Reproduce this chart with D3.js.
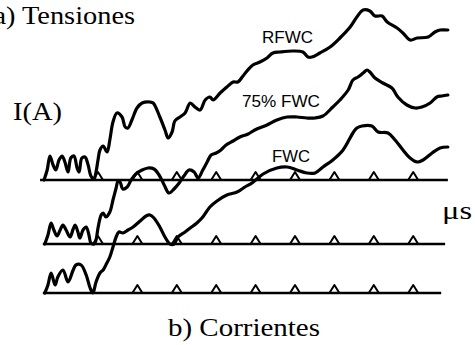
<!DOCTYPE html>
<html>
<head>
<meta charset="utf-8">
<script src="https://cdn.jsdelivr.net/npm/d3@7"></script>
<style>
  html, body { margin: 0; padding: 0; background: #fff; }
  svg { display: block; }
</style>
</head>
<body>
<svg id="chart" width="475" height="345"></svg>
<script>
// Current waveforms, [time (µs, time marks at whole µs), current (A)]
const rfwc = [
  [-0.37, 0], [-0.29, 1.0], [-0.22, 2.4], [-0.14, 1.5], [-0.07, 1.0], [0.01, 2.0],
  [0.09, 2.4], [0.16, 1.8], [0.24, 0.8], [0.31, 2.2], [0.39, 2.4], [0.47, 1.2],
  [0.52, 0.8], [0.59, 2.2], [0.67, 2.3], [0.75, 1.5], [0.82, 0.4], [0.90, 0.1],
  [0.95, 0.8], [1.00, 2.0], [1.05, 3.0], [1.13, 3.4], [1.23, 2.8], [1.30, 4.0],
  [1.38, 5.8], [1.48, 6.7], [1.61, 6.3], [1.69, 5.3], [1.76, 5.2], [1.86, 6.0],
  [1.99, 7.2], [2.12, 7.7], [2.32, 7.8], [2.40, 7.7], [2.57, 6.3], [2.70, 5.0],
  [2.78, 4.2], [2.88, 4.8], [2.95, 5.9], [3.08, 6.3], [3.21, 6.7], [3.34, 7.7],
  [3.46, 7.3], [3.59, 7.0], [3.72, 8.0], [3.84, 8.3], [3.92, 8.0], [4.10, 8.7],
  [4.27, 9.3], [4.43, 9.8], [4.55, 9.8], [4.68, 10.4], [4.78, 10.9], [4.93, 11.5],
  [5.11, 11.8], [5.29, 12.2], [5.44, 12.7], [5.62, 12.8], [5.95, 12.9], [6.20, 12.8],
  [6.33, 12.3], [6.43, 12.3], [6.63, 12.7], [6.89, 13.3], [7.14, 14.2], [7.40, 15.3],
  [7.57, 16.3], [7.73, 17.0], [7.90, 16.9], [8.03, 16.4], [8.21, 16.4], [8.34, 15.8],
  [8.59, 15.2], [8.74, 14.7], [8.92, 14.0], [9.10, 14.2], [9.38, 14.3], [9.55, 14.8],
  [9.68, 15.0], [9.88, 15.0]
];

const fwc75 = [
  [-0.35, 0], [-0.27, 0.9], [-0.19, 2.1], [-0.12, 1.4], [-0.04, 0.8], [0.04, 1.4],
  [0.11, 1.9], [0.19, 1.4], [0.29, 0.7], [0.37, 1.5], [0.42, 1.9], [0.49, 1.2],
  [0.54, 0.6], [0.62, 1.4], [0.70, 1.7], [0.77, 0.9], [0.82, 0.1], [0.90, 0],
  [0.95, 0.4], [1.00, 1.6], [1.08, 2.9], [1.13, 3.1], [1.20, 2.7], [1.30, 3.2],
  [1.38, 4.4], [1.46, 5.6], [1.51, 6.3], [1.56, 6.2], [1.63, 5.5], [1.74, 5.7],
  [1.84, 6.4], [1.96, 7.0], [2.12, 7.4], [2.27, 7.6], [2.42, 7.5], [2.55, 6.9],
  [2.68, 5.9], [2.80, 5.1], [2.93, 5.5], [3.06, 6.1], [3.18, 6.8], [3.31, 7.4],
  [3.44, 7.2], [3.54, 6.6], [3.66, 7.4], [3.77, 8.2], [3.87, 8.9], [4.00, 9.1],
  [4.12, 9.4], [4.25, 9.9], [4.43, 10.3], [4.60, 10.7], [4.81, 11.0], [4.98, 11.4],
  [5.29, 11.9], [5.54, 12.4], [5.80, 12.7], [6.05, 12.7], [6.30, 12.6], [6.51, 12.6],
  [6.71, 12.8], [6.96, 13.7], [7.14, 14.4], [7.35, 15.4], [7.47, 16.4], [7.60, 16.7],
  [7.73, 17.1], [7.83, 17.4], [7.90, 17.2], [8.03, 16.6], [8.23, 16.1], [8.46, 15.6],
  [8.61, 14.7], [8.84, 13.9], [9.05, 13.6], [9.22, 13.7], [9.43, 14.1], [9.60, 14.7],
  [9.73, 14.8], [9.88, 14.9]
];

const fwc = [
  [-0.35, 0], [-0.27, 0.8], [-0.19, 2.0], [-0.09, 0.8], [-0.02, 1.6], [0.11, 2.3],
  [0.24, 1.1], [0.37, 2.3], [0.44, 2.8], [0.57, 2.8], [0.70, 1.8], [0.80, 0.5],
  [0.87, 0], [0.95, 1.1], [1.05, 2.0], [1.13, 2.3], [1.20, 2.8], [1.30, 3.6],
  [1.38, 4.6], [1.46, 5.6], [1.53, 6.1], [1.63, 6.0], [1.76, 6.3], [1.89, 6.6],
  [2.07, 7.2], [2.22, 7.7], [2.32, 7.8], [2.42, 7.5], [2.57, 6.6], [2.70, 5.6],
  [2.83, 4.9], [2.93, 4.9], [3.03, 5.6], [3.21, 6.1], [3.34, 6.5], [3.51, 7.0],
  [3.66, 7.6], [3.84, 8.6], [4.02, 9.2], [4.27, 9.8], [4.53, 10.1], [4.73, 10.6],
  [4.91, 11.0], [5.19, 11.9], [5.54, 12.5], [5.80, 12.6], [6.05, 12.3], [6.30, 12.0],
  [6.51, 12.0], [6.71, 12.6], [6.96, 13.3], [7.22, 14.3], [7.47, 16.0], [7.57, 16.5],
  [7.70, 16.7], [7.95, 16.7], [8.11, 16.1], [8.36, 16.0], [8.54, 15.3], [8.74, 14.3],
  [8.92, 13.5], [9.10, 13.1], [9.25, 13.3], [9.48, 14.0], [9.68, 14.5], [9.88, 14.6]
];

// Time marks along each zero line (µs)
const tickTimes = [1, 2, 3, 4, 5, 6, 7, 8, 9];

// Trace names
const seriesNames = ["RFWC", "75% FWC", "FWC"];

const svg = d3.select("#chart");

// Shared time scale and amplitude scale (amplitude measured upward from each zero line)
const x = d3.scaleLinear().domain([0, 9]).range([58.6, 413.2]);
const y = d3.scaleLinear().domain([0, 17.5]).range([0, -175]);

// Stacked layout: zero-line position of each trace and extent of its zero line
const layout = [
  { data: rfwc,  name: seriesNames[0], base: 180, span: [-0.47, 9.88], firstTick: 1,
    label: { x: 262, y: 42.5, w: 51 } },
  { data: fwc75, name: seriesNames[1], base: 244, span: [-0.40, 9.81], firstTick: 1,
    label: { x: 242, y: 106.5, w: 78 } },
  { data: fwc,   name: seriesNames[2], base: 293, span: [-0.40, 9.71], firstTick: 2,
    label: { x: 272, y: 161.5, w: 38 } }
];

const line = d3.line()
  .x(d => x(d[0]))
  .y(d => y(d[1]))
  .curve(d3.curveCatmullRom.alpha(0.5));

// Zero lines with their time marks
layout.forEach(s => {
  const g = svg.append("g").attr("transform", `translate(0,${s.base})`);
  g.append("line")
    .attr("x1", x(s.span[0])).attr("x2", x(s.span[1]))
    .attr("y1", 0).attr("y2", 0)
    .attr("stroke", "#000").attr("stroke-width", 2.6);
  g.selectAll("path.tick")
    .data(tickTimes.filter(t => t >= s.firstTick))
    .join("path")
    .attr("class", "tick")
    .attr("d", t => `M${x(t) - 5},0 L${x(t)},-8 L${x(t) + 5},0`)
    .attr("fill", "none")
    .attr("stroke", "#000")
    .attr("stroke-width", 2)
    .attr("stroke-linejoin", "round");
});

// Current traces
layout.forEach(s => {
  svg.append("g").attr("transform", `translate(0,${s.base})`)
    .append("path")
    .datum(s.data)
    .attr("d", line)
    .attr("fill", "none")
    .attr("stroke", "#000")
    .attr("stroke-width", 3.2)
    .attr("stroke-linejoin", "round")
    .attr("stroke-linecap", "round");
});

// Trace names
layout.forEach(s => {
  svg.append("text")
    .attr("x", s.label.x).attr("y", s.label.y)
    .attr("textLength", s.label.w)
    .attr("lengthAdjust", "spacingAndGlyphs")
    .attr("font-family", "'Liberation Sans', Arial, sans-serif")
    .attr("font-size", 17)
    .attr("fill", "#000")
    .text(s.name);
});

// Captions and axis units
const serif = "'Liberation Serif', 'Times New Roman', serif";
const captions = [
  { text: "a) Tensiones", x: -6.6, y: 24, w: 141.6 },
  { text: "I(A)", x: 13, y: 120, w: 49 },
  { text: "\u03BCs", x: 442, y: 219, w: 30 },
  { text: "b) Corrientes", x: 168, y: 336, w: 152 }
];
svg.selectAll("text.caption")
  .data(captions)
  .join("text")
  .attr("class", "caption")
  .attr("x", d => d.x).attr("y", d => d.y)
  .attr("textLength", d => d.w)
  .attr("lengthAdjust", "spacingAndGlyphs")
  .attr("font-family", serif)
  .attr("font-size", 26)
  .attr("fill", "#000")
  .text(d => d.text);
</script>
</body>
</html>
